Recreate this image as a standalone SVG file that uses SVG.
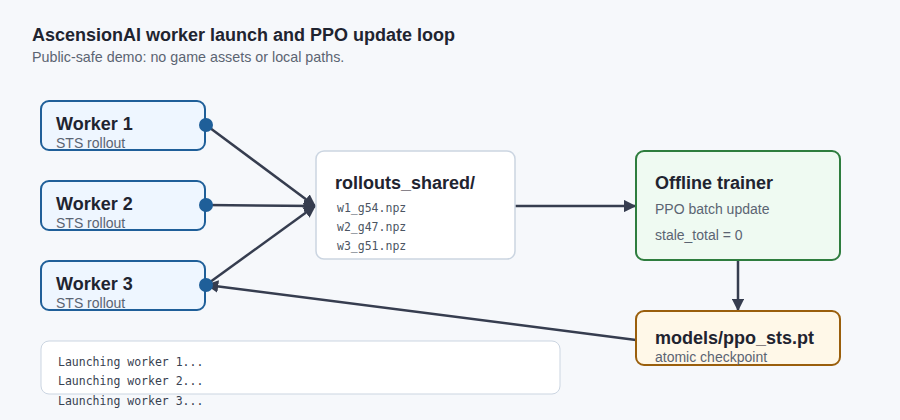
<svg xmlns="http://www.w3.org/2000/svg" width="900" height="420" viewBox="0 0 900 420">
<style>
.title{font-family:"Liberation Sans",Arial,sans-serif;font-weight:bold;font-size:18px;fill:#1f2430}
.sub{font-family:"Liberation Sans",Arial,sans-serif;font-size:14.3px;fill:#5b6472}
.nt{font-family:"Liberation Sans",Arial,sans-serif;font-weight:bold;font-size:18px;fill:#1f2430}
.ns{font-family:"Liberation Sans",Arial,sans-serif;font-size:14px;fill:#5b6472}
.mono{font-family:"DejaVu Sans Mono","Liberation Mono",monospace;font-size:11.5px;fill:#374151}
.file{fill:#4b5563}
.worker{fill:#eef6ff;stroke:#1f5f99;stroke-width:2}
.dot{fill:#1f5f99}
.conn{stroke:#363d4f;stroke-width:2.5;fill:none;marker-end:url(#ah)}
</style>
<defs>
<marker id="ah" viewBox="0 0 10 10" refX="9" refY="5" markerWidth="5" markerHeight="5" orient="auto" markerUnits="strokeWidth">
<path d="M0,0 L10,5 L0,10 z" fill="#363d4f"/>
</marker>
</defs>
<rect width="900" height="420" fill="#f6f8fb"/>
<text class="title" x="32" y="41">AscensionAI worker launch and PPO update loop</text>
<text class="sub" x="32" y="62">Public-safe demo: no game assets or local paths.</text>
<g id="connectors">
<line class="conn" x1="206" y1="125" x2="315" y2="206"/>
<line class="conn" x1="206" y1="205" x2="315" y2="206"/>
<line class="conn" x1="206" y1="285" x2="315" y2="206"/>
<line class="conn" x1="515" y1="206" x2="635" y2="206"/>
<line class="conn" x1="738" y1="260" x2="738" y2="310"/>
<line class="conn" x1="636" y1="340" x2="207" y2="285"/>
</g>
<g id="worker1">
<rect class="worker" x="41" y="101" width="164" height="49" rx="8"/>
<text class="nt" x="56" y="130">Worker 1</text>
<text class="ns" x="56" y="148">STS rollout</text>
<circle class="dot" cx="206" cy="125" r="7"/>
</g>
<g id="worker2">
<rect class="worker" x="41" y="181" width="164" height="49" rx="8"/>
<text class="nt" x="56" y="210">Worker 2</text>
<text class="ns" x="56" y="228">STS rollout</text>
<circle class="dot" cx="206" cy="205" r="7"/>
</g>
<g id="worker3">
<rect class="worker" x="41" y="261" width="164" height="49" rx="8"/>
<text class="nt" x="56" y="290">Worker 3</text>
<text class="ns" x="56" y="308">STS rollout</text>
<circle class="dot" cx="206" cy="285" r="7"/>
</g>
<g id="rollouts">
<rect x="316" y="151" width="199" height="108" rx="8" fill="#ffffff" stroke="#cbd5e1" stroke-width="1.5"/>
<text class="nt" x="335" y="189">rollouts_shared/</text>
<text class="mono file" x="337" y="212">w1_g54.npz</text>
<text class="mono file" x="337" y="231">w2_g47.npz</text>
<text class="mono file" x="337" y="250">w3_g51.npz</text>
</g>
<g id="trainer">
<rect x="636" y="151" width="204" height="109" rx="8" fill="#effaf2" stroke="#2e7d3e" stroke-width="2"/>
<text class="nt" x="655" y="189">Offline trainer</text>
<text class="ns" x="655" y="214">PPO batch update</text>
<text class="ns" x="655" y="240">stale_total = 0</text>
</g>
<g id="models">
<rect x="636" y="311" width="204" height="54" rx="8" fill="#fff8e8" stroke="#9a5f0c" stroke-width="2"/>
<text class="nt" x="655" y="344">models/ppo_sts.pt</text>
<text class="ns" x="655" y="362">atomic checkpoint</text>
</g>
<g id="log">
<rect x="41" y="341" width="519" height="53" rx="8" fill="#ffffff" stroke="#cbd5e1" stroke-width="1"/>
<text class="mono" x="58" y="366">Launching worker 1...</text>
<text class="mono" x="58" y="385">Launching worker 2...</text>
<text class="mono" x="58" y="405">Launching worker 3...</text>
</g>
</svg>
